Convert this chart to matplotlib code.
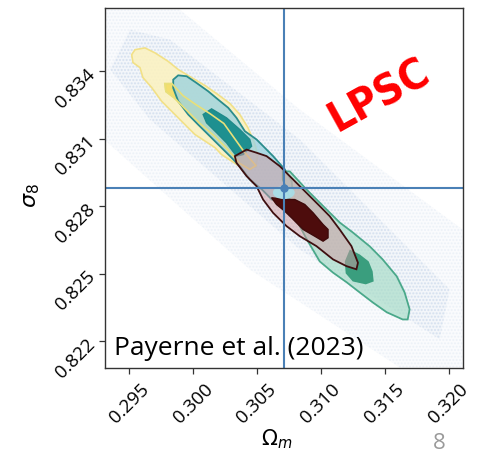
import matplotlib
matplotlib.use('Agg')
import matplotlib.pyplot as plt
from matplotlib.patches import Ellipse

plt.rcParams['font.family'] = ['Open Sans', 'DejaVu Sans']
plt.rcParams['mathtext.fontset'] = 'dejavusans'

# fiducial cosmology (crosshair)
om_true = 0.3071
s8_true = 0.8288

om_ticks = [0.295, 0.300, 0.305, 0.310, 0.315, 0.320]
s8_ticks = [0.822, 0.825, 0.828, 0.831, 0.834]
om_lim = (0.2931, 0.3211)
s8_lim = (0.8208, 0.8368)

# spread of the posterior samples (outer / inner sample clouds)
cloud_outer_om = [0.29305, 0.29898, 0.30836, 0.32109, 0.32109, 0.31617, 0.30445, 0.29305]
cloud_outer_s8 = [0.83674, 0.83674, 0.83230, 0.82697, 0.82084, 0.82084, 0.82519, 0.83097]
cloud_inner_om = [0.29508, 0.29820, 0.30836, 0.32008, 0.31930, 0.30836, 0.29664, 0.29352]
cloud_inner_s8 = [0.83585, 0.83541, 0.83097, 0.82431, 0.82209, 0.82608, 0.83186, 0.83408]

# yellow chain, 2-sigma and 1-sigma contours
yel_2s_om = [0.29521, 0.29547, 0.29625, 0.29703, 0.29807, 0.29885, 0.29990, 0.30094,
             0.30195, 0.30289, 0.30367, 0.30430, 0.30477, 0.30508, 0.30492, 0.30367,
             0.30224, 0.30172, 0.30094, 0.30016, 0.29938, 0.29859, 0.29755, 0.29677,
             0.29609, 0.29586, 0.29531]
yel_2s_s8 = [0.83474, 0.83496, 0.83504, 0.83482, 0.83444, 0.83408, 0.83372, 0.83337,
             0.83297, 0.83257, 0.83208, 0.83150, 0.83088, 0.83030, 0.82973, 0.82977,
             0.83030, 0.83061, 0.83090, 0.83119, 0.83163, 0.83208, 0.83267, 0.83328,
             0.83372, 0.83416, 0.83439]
yel_1s_om = [0.29781, 0.29836, 0.29922, 0.30023, 0.30133, 0.30242, 0.30320, 0.30398,
             0.30492, 0.30445, 0.30367, 0.30273, 0.30172, 0.30055, 0.29945, 0.29852,
             0.29789]
yel_1s_s8 = [0.83345, 0.83345, 0.83292, 0.83252, 0.83212, 0.83168, 0.83106, 0.83044,
             0.82981, 0.82964, 0.82990, 0.83052, 0.83110, 0.83168, 0.83230, 0.83283,
             0.83310]

# teal chain
teal_2s_om = [0.29846, 0.29885, 0.29951, 0.30029, 0.30120, 0.30198, 0.30276, 0.30341,
              0.30406, 0.30498, 0.30627, 0.30719, 0.30773, 0.30781, 0.30719, 0.30617,
              0.30539, 0.30445, 0.30367, 0.30302, 0.30224, 0.30146, 0.30041, 0.29963,
              0.29885, 0.29846]
teal_2s_s8 = [0.83363, 0.83382, 0.83378, 0.83348, 0.83311, 0.83274, 0.83238, 0.83193,
              0.83134, 0.83097, 0.83023, 0.82964, 0.82910, 0.82853, 0.82822, 0.82830,
              0.82875, 0.82919, 0.82978, 0.83016, 0.83060, 0.83104, 0.83163, 0.83208,
              0.83267, 0.83326]
teal_1s_om = [0.30080, 0.30146, 0.30263, 0.30367, 0.30445, 0.30459, 0.30393, 0.30341,
              0.30263, 0.30185, 0.30107]
teal_1s_s8 = [0.83208, 0.83233, 0.83193, 0.83141, 0.83097, 0.83067, 0.83030, 0.83023,
              0.83082, 0.83127, 0.83171]

# green chain
green_2s_om = [0.30703, 0.30758, 0.30888, 0.31045, 0.31148, 0.31250, 0.31383, 0.31484,
               0.31594, 0.31656, 0.31695, 0.31680, 0.31641, 0.31516, 0.31406, 0.31305,
               0.31203, 0.31094, 0.30992, 0.30891, 0.30820, 0.30773, 0.30734, 0.30703]
green_2s_s8 = [0.82955, 0.82955, 0.82875, 0.82786, 0.82728, 0.82684, 0.82622, 0.82564,
               0.82489, 0.82417, 0.82342, 0.82297, 0.82297, 0.82329, 0.82373, 0.82417,
               0.82462, 0.82506, 0.82555, 0.82653, 0.82728, 0.82799, 0.82875, 0.82919]
green_1s_om = [0.31227, 0.31305, 0.31375, 0.31406, 0.31414, 0.31352, 0.31250, 0.31195,
               0.31188]
green_1s_s8 = [0.82608, 0.82586, 0.82555, 0.82511, 0.82466, 0.82453, 0.82466, 0.82502,
               0.82555]

# dark red chain
red_2s_om = [0.30328, 0.30420, 0.30498, 0.30576, 0.30680, 0.30784, 0.30888, 0.30992,
             0.31070, 0.31148, 0.31240, 0.31291, 0.31279, 0.31201, 0.31096, 0.30966,
             0.30836, 0.30732, 0.30627, 0.30549, 0.30498, 0.30420, 0.30341]
red_2s_s8 = [0.83023, 0.83052, 0.83038, 0.83023, 0.82978, 0.82919, 0.82860, 0.82801,
             0.82756, 0.82697, 0.82623, 0.82549, 0.82520, 0.82534, 0.82564, 0.82623,
             0.82667, 0.82712, 0.82771, 0.82830, 0.82889, 0.82934, 0.82993]
red_1s_om = [0.30615, 0.30732, 0.30797, 0.30875, 0.30940, 0.31018, 0.31057, 0.31057,
             0.31018, 0.30953, 0.30862, 0.30784, 0.30719, 0.30654]
red_1s_s8 = [0.82838, 0.82830, 0.82830, 0.82808, 0.82771, 0.82719, 0.82697, 0.82660,
             0.82645, 0.82667, 0.82697, 0.82742, 0.82778, 0.82808]

# tight constraint around the fiducial point
tight_center = (0.30711, 0.82861)
tight_width = 0.0017
tight_height = 0.00058

fig = plt.figure(figsize=(4.95, 4.53), dpi=100)
ax = fig.add_axes([0.2115, 0.187, 0.7232, 0.7947])

# sample cloud
ax.fill(cloud_outer_om, cloud_outer_s8, facecolor='#d5e0ef', alpha=0.10, edgecolor='none')
ax.fill(cloud_outer_om, cloud_outer_s8, facecolor='none', edgecolor='#b4c8e2',
        hatch='.....', linewidth=0, alpha=0.18)
ax.fill(cloud_inner_om, cloud_inner_s8, facecolor='#c2d4ea', alpha=0.12, edgecolor='none')
ax.fill(cloud_inner_om, cloud_inner_s8, facecolor='none', edgecolor='#9cb6d9',
        hatch='.....', linewidth=0, alpha=0.2)

# yellow
ax.fill(yel_2s_om, yel_2s_s8, facecolor='#fbf2c2', alpha=0.9, edgecolor='#f2df7e', lw=1.2)
ax.fill(yel_1s_om, yel_1s_s8, facecolor='#f3dc64', alpha=0.9, edgecolor='#f0da6a', lw=1.2)

# teal
ax.fill(teal_2s_om, teal_2s_s8, facecolor='#9dd3df', alpha=0.8, edgecolor='none')
ax.fill(teal_2s_om, teal_2s_s8, facecolor='none', edgecolor='#2a8c8c', lw=1.3)
ax.fill(teal_1s_om, teal_1s_s8, facecolor='#1e9090', edgecolor='#1e8a8a', lw=1.0)
ax.fill(yel_1s_om, yel_1s_s8, facecolor='none', edgecolor='#e8e07a', lw=1.2)

# green
ax.fill(green_2s_om, green_2s_s8, facecolor='#a9ddc9', alpha=0.7, edgecolor='none')
ax.fill(green_2s_om, green_2s_s8, facecolor='none', edgecolor='#4aa88a', lw=1.3)
ax.fill(green_1s_om, green_1s_s8, facecolor='#3a9e7e', edgecolor='none')

# dark red
ax.fill(red_2s_om, red_2s_s8, facecolor='#d09aa0', alpha=0.5, edgecolor='none')
ax.fill(red_2s_om, red_2s_s8, facecolor='none', edgecolor='#3e0f10', lw=1.3)
ax.fill(red_1s_om, red_1s_s8, facecolor='#4d0c0c', edgecolor='#3e0a0a', lw=1.0)

ax.add_patch(Ellipse(tight_center, tight_width, tight_height, facecolor='#a8e0ea',
                     edgecolor='none', alpha=0.9))

# fiducial values
ax.axvline(om_true, color='#4a80b6', lw=1.5)
ax.axhline(s8_true, color='#4a80b6', lw=1.5)
ax.plot([om_true], [s8_true], 'o', color='#4a80b6', ms=5)

ax.set_xlim(*om_lim)
ax.set_ylim(*s8_lim)
ax.set_xticks(om_ticks)
ax.set_yticks(s8_ticks)
ax.set_xticklabels([f'{t:.3f}' for t in om_ticks], rotation=45, fontsize=13.5)
ax.set_yticklabels([f'{t:.3f}' for t in s8_ticks], rotation=45, fontsize=13.5,
                   ha='right', va='center', rotation_mode='anchor')
ax.tick_params(direction='out', length=4, width=0.9, color='#333333', pad=5)
for sp in ax.spines.values():
    sp.set_color('#333333')
    sp.set_linewidth(1.0)

ax.set_xlabel(r'$\Omega_m$', fontsize=15, va='center')
ax.xaxis.set_label_coords(0.48, -0.198)
ax.set_ylabel(r'$\sigma_8$', fontsize=16)
ax.yaxis.set_label_coords(-0.175, 0.48)

ax.text(0.026, 0.037, 'Payerne et al. (2023)', transform=ax.transAxes,
        fontsize=19, ha='left', va='baseline', color='black')
ax.text(0.767, 0.757, 'LPSC', transform=ax.transAxes, fontsize=31, color='#ff0000',
        fontweight='bold', family='DejaVu Sans', fontstretch='condensed',
        rotation=29, ha='center', va='center')

fig.text(0.887, 0.02, '8', fontsize=16, color='#9a9a9a', ha='center', va='center')

fig.savefig('out.png', dpi=100)
